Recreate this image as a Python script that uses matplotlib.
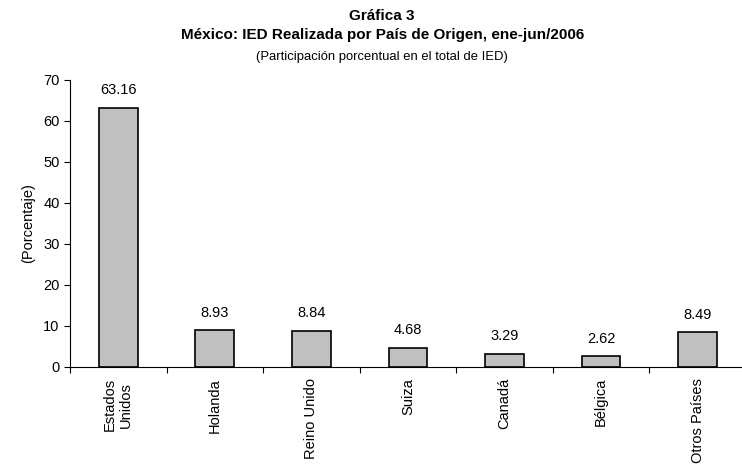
import numpy as np
import matplotlib
matplotlib.use("Agg")
import matplotlib.pyplot as plt

plt.rcParams["font.family"] = ["Liberation Sans", "DejaVu Sans"]

paises = ["Estados\nUnidos", "Holanda", "Reino Unido", "Suiza", "Canadá", "Bélgica", "Otros Países"]
valores = [63.16, 8.93, 8.84, 4.68, 3.29, 2.62, 8.49]
etiquetas = ["63.16", "8.93", "8.84", "4.68", "3.29", "2.62", "8.49"]

fig = plt.figure(figsize=(7.42, 4.69), dpi=100)
ax = fig.add_axes([0.0943, 0.2175, 0.9057, 0.612])

x = np.arange(len(paises))
ax.bar(x, valores, width=0.4, color="#c0c0c0", edgecolor="black", linewidth=1.2)

for xi, v, t in zip(x, valores, etiquetas):
    ax.text(xi, v + 2.6, t, ha="center", va="bottom", fontsize=10.5)

ax.set_xlim(-0.5, 6.46)
ax.set_ylim(0, 70)
ax.set_yticks(range(0, 71, 10))
ax.tick_params(axis="y", labelsize=10.5, direction="out", length=4, width=0.8)

# ticks between categories
ax.set_xticks(np.arange(-0.5, 6.5, 1))
ax.set_xticklabels([])
ax.tick_params(axis="x", direction="out", length=4, width=0.8)
ax.set_xticks(x, minor=True)
ax.set_xticklabels(paises, minor=True, rotation=90, fontsize=10.5, ha="center", va="top")
ax.tick_params(axis="x", which="minor", length=0, pad=8)

for s in ["top", "right"]:
    ax.spines[s].set_visible(False)
ax.spines["left"].set_linewidth(0.8)
ax.spines["bottom"].set_linewidth(0.8)

ax.set_ylabel("(Porcentaje)", fontsize=10.5, labelpad=6)

fig.text(0.515, 0.98, "Gráfica 3", ha="center", va="top", fontsize=11, fontweight="bold")
fig.text(0.515, 0.94, "México: IED Realizada por País de Origen, ene-jun/2006",
         ha="center", va="top", fontsize=11, fontweight="bold")
fig.text(0.515, 0.892, "(Participación porcentual en el total de IED)",
         ha="center", va="top", fontsize=9.4)

fig.savefig("out.png", dpi=100)
